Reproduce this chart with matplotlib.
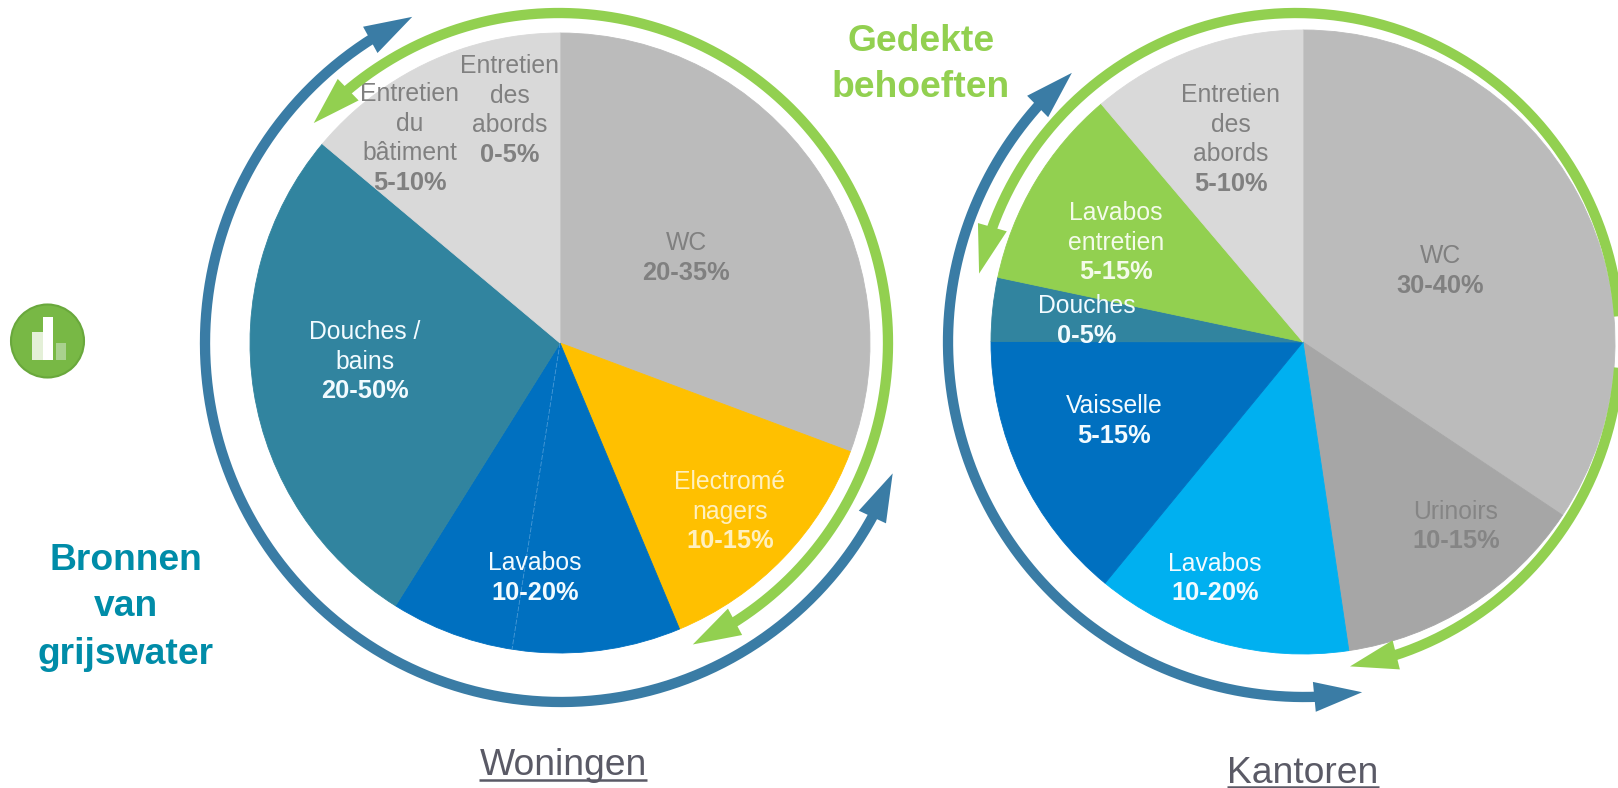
import numpy as np
import matplotlib
matplotlib.use("Agg")
import matplotlib.pyplot as plt
from matplotlib.patches import Circle, Polygon

plt.rcParams['font.family'] = ['Liberation Sans', 'DejaVu Sans']

# ---------- data ----------
woningen_categories = ["WC", "Electroménagers", "Lavabos", "Douches / bains",
                       "Entretien du bâtiment", "Entretien des abords"]
woningen_values = [30.7, 13.0, 15.2, 27.2, 8.9, 5.0]
woningen_ranges = ["20-35%", "10-15%", "10-20%", "20-50%", "5-10%", "0-5%"]
woningen_lines = [["WC"], ["Electromé", "nagers"], ["Lavabos"], ["Douches /", "bains"],
                  ["Entretien", "du", "bâtiment"], ["Entretien", "des", "abords"]]

kantoren_categories = ["WC", "Urinoirs", "Lavabos", "Vaisselle", "Douches",
                       "Lavabos entretien", "Entretien des abords"]
kantoren_values = [34.4, 13.3, 13.3, 14.1, 3.3, 10.5, 11.2]
kantoren_ranges = ["30-40%", "10-15%", "10-20%", "5-15%", "0-5%", "5-15%", "5-10%"]
kantoren_lines = [["WC"], ["Urinoirs"], ["Lavabos"], ["Vaisselle"], ["Douches"],
                  ["Lavabos", "entretien"], ["Entretien", "des", "abords"]]

icon_heights = [28, 43, 17]

# ---------- styles / layout ----------
W, H = 1618, 788
GREEN, BLUE = "#92D050", "#3A7CA5"
TEAL = "#31849F"
woningen_colors = ["#BBBBBB", "#FFC000", "#0070C0", TEAL, "#D9D9D9", "#D9D9D9"]
kantoren_colors = ["#BBBBBB", "#A6A6A6", "#00B0F0", "#0070C0", TEAL, GREEN, "#D9D9D9"]
GRAY_T, WHITE_T, YEL_T = "#808080", "#F2FBFF", "#FFF0BF"
woningen_tc = [GRAY_T, YEL_T, WHITE_T, WHITE_T, GRAY_T, GRAY_T]
kantoren_tc = [GRAY_T, "#858585", WHITE_T, WHITE_T, WHITE_T, "#F4FBEA", GRAY_T]
# label x and first-line y (pixels from top-left) and line steps
woningen_pos = [(686, 243), (730, 482), (535, 563), (365, 332), (410, 94), (510, 66)]
kantoren_pos = [(1440, 256), (1456, 512), (1215, 564), (1114, 406), (1087, 306),
                (1116, 213), (1231, 95)]
LINE = 29.5

fig = plt.figure(figsize=(W / 100, H / 100), dpi=100, facecolor="white")
ax = fig.add_axes([0, 0, 1, 1])


def Y(py):
    return H - py


def pie(values, colors, cx, cy, r):
    wedges, _ = ax.pie(values, colors=colors, center=(cx, Y(cy)), radius=r, startangle=90,
                       counterclock=False)
    for w in wedges:
        w.set_edgecolor(w.get_facecolor())
        w.set_linewidth(0.6)


def labels(lines, ranges, pos, colors):
    for ls, rng, (x, y), c in zip(lines, ranges, pos, colors):
        for i, s in enumerate(ls):
            ax.text(x, Y(y + i * LINE), s, ha="center", va="center", fontsize=17.8, color=c)
        ax.text(x, Y(y + len(ls) * LINE), rng, ha="center", va="center", fontsize=18.3,
                fontweight="bold", color=c)


def arc(cx, cy, rx, ry, a0, a1, color, lw=10.3, head_l=48, head_w=30):
    """Elliptical arc from parameter a0 to a1 (degrees) with a head on both ends."""
    cyy = Y(cy)
    sgn = np.sign(a1 - a0)
    dl = np.degrees(head_l / ((rx + ry) / 2))

    def pt(a):
        return np.array([cx + rx * np.cos(np.radians(a)), cyy + ry * np.sin(np.radians(a))])

    t = np.linspace(a0 + sgn * dl * 0.9, a1 - sgn * dl * 0.9, 400)
    ax.plot(cx + rx * np.cos(np.radians(t)), cyy + ry * np.sin(np.radians(t)), color=color,
            lw=lw * 0.72, solid_capstyle="butt", zorder=5)
    for tip_a, base_a in ((a0, a0 + sgn * dl), (a1, a1 - sgn * dl)):
        tip, base = pt(tip_a), pt(base_a)
        d = (tip - base) / np.linalg.norm(tip - base)
        n = np.array([-d[1], d[0]])
        ax.add_patch(Polygon([tip, base + n * head_w / 2, base - n * head_w / 2],
                             closed=True, fc=color, ec="none", zorder=6))


# pies
pie(woningen_values, woningen_colors, 560, 343, 310)
pie(kantoren_values, kantoren_colors, 1303, 342, 312)
ax.set_xlim(0, W)
ax.set_ylim(0, H)
ax.set_aspect("equal")
ax.axis("off")

# faint seam inside the Lavabos wedge
seam = np.radians(-98.9)
ax.plot([560, 560 + 310 * np.cos(seam)], [Y(343), Y(343) + 310 * np.sin(seam)],
        color="#4A9AD6", lw=0.6, ls=(0, (6, 2)), zorder=3)

labels(woningen_lines, woningen_ranges, woningen_pos, woningen_tc)
labels(kantoren_lines, kantoren_ranges, kantoren_pos, kantoren_tc)

# surrounding arrows
arc(559, 343, 329, 330, 138.2, -66, GREEN)
arc(561, 343, 356, 359, -21.3, -245.3, BLUE)
arc(1296, 342, 324, 329, 168, -80.4, GREEN)
arc(1304, 342, 356, 355, -80.6, -229.3, BLUE)

# headings
for s, y in (("Gedekte", 41), ("behoeften", 87)):
    ax.text(921, Y(y), s, ha="center", va="center", fontsize=26.8, fontweight="bold", color=GREEN)
for s, y in (("Bronnen", 561), ("van", 607), ("grijswater", 654)):
    ax.text(126, Y(y), s, ha="center", va="center", fontsize=26.8, fontweight="bold", color="#008CA8")

# captions with underline
fig.canvas.draw()
rend = fig.canvas.get_renderer()
for s, x, base, ul in (("Woningen", 563, 775, 779.5), ("Kantoren", 1303, 783, 787)):
    t = ax.text(x, Y(base), s, ha="center", va="baseline", fontsize=26.8, color="#5A5A66")
    bb = t.get_window_extent(rend)
    ax.plot([bb.x0, bb.x1], [Y(ul), Y(ul)], color="#5A5A66", lw=1.8, solid_capstyle="butt")

# icon
ax.add_patch(Circle((47.5, Y(341)), 36.5, fc="#78B845", ec="#69A83C", lw=1.5, zorder=2))
ax.bar([37.5, 48.5, 61], icon_heights, width=[11, 10, 10], bottom=Y(360),
       color=["#E4F0D8", "#FFFFFF", "#A9D18E"], zorder=3)
ax.set_xlim(0, W)
ax.set_ylim(0, H)

fig.savefig("out.png", dpi=100)
